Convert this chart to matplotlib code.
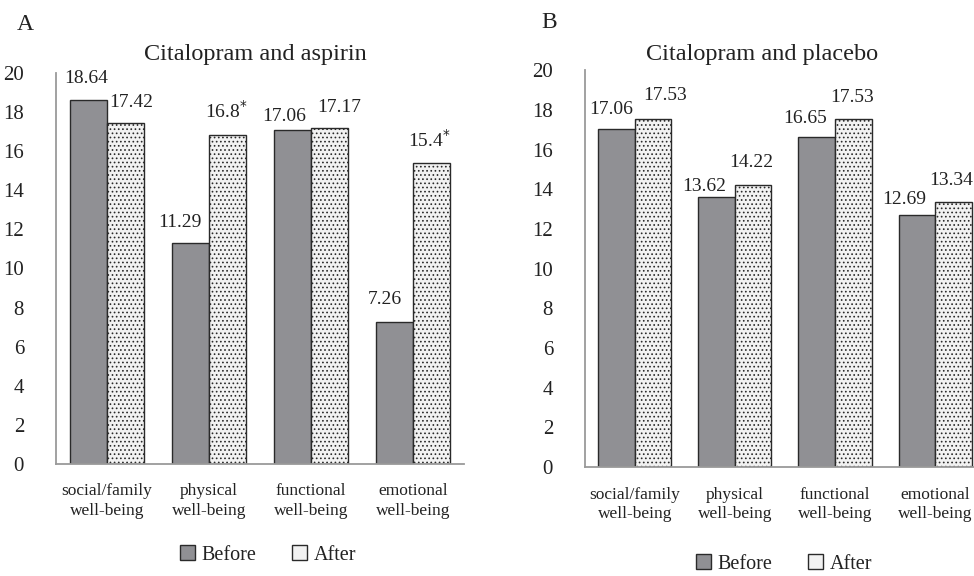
import numpy as np
import matplotlib.pyplot as plt
from matplotlib.patches import Patch

plt.rcParams['font.family'] = ['Liberation Serif', 'DejaVu Serif']
plt.rcParams['text.color'] = '#222222'
plt.rcParams['xtick.color'] = '#222222'
plt.rcParams['ytick.color'] = '#222222'
plt.rcParams['hatch.color'] = '#e2e2e2'
plt.rcParams['hatch.linewidth'] = 0.7

categories = ['social/family\nwell-being', 'physical\nwell-being',
              'functional\nwell-being', 'emotional\nwell-being']
aspirin_before = [18.64, 11.29, 17.06, 7.26]
aspirin_after = [17.42, 16.8, 17.17, 15.4]
aspirin_after_star = [False, True, False, True]
placebo_before = [17.06, 13.62, 16.65, 12.69]
placebo_after = [17.53, 14.22, 17.53, 13.34]
placebo_after_star = [False, False, False, False]
yticks = list(range(0, 21, 2))

# label nudges (pixels: dx, gap above bar) as placed in the original
aspirin_before_nudge = [(-2, 16.5), (-11, 16), (-8.5, 9.5), (-9.5, 18)]
aspirin_after_nudge = [(6, 16), (-1.5, 17.5), (10, 16), (-2.5, 16)]
placebo_before_nudge = [(-5.5, 15), (-13, 5.5), (-12, 13.5), (-13, 11)]
placebo_after_nudge = [(12, 19), (-2, 17.5), (-1.5, 17), (-2.5, 17)]

dark = '#909094'
light = '#f2f2f2'
PX = 0.72  # points per pixel at 100 dpi


def fmt(v):
    s = f"{v:.2f}"
    if s.endswith('0'):
        s = s[:-1]
    return s


def draw_panel(ax, before, after, stars, nb, na):
    x = np.arange(len(categories))
    w = 0.365
    ax.bar(x - w / 2, before, w, color=dark, edgecolor='#2a2a2a', linewidth=1.0)
    ax.bar(x + w / 2, after, w, color=light, edgecolor='#2a2a2a', linewidth=1.0,
           hatch='....')
    for xi, v, (dx, dy) in zip(x, before, nb):
        ax.annotate(fmt(v), (xi - w / 2, v), xytext=(dx * PX, dy * PX),
                    textcoords='offset points', ha='center', va='baseline',
                    fontsize=14)
    for xi, v, s, (dx, dy) in zip(x, after, stars, na):
        lab = fmt(v) + (r'$^{*}$' if s else '')
        ax.annotate(lab, (xi + w / 2, v), xytext=(dx * PX, dy * PX),
                    textcoords='offset points', ha='center', va='baseline',
                    fontsize=14)
    ax.set_ylim(0, 20)
    ax.set_yticks(yticks)
    ax.set_xticks(x)
    ax.set_xticklabels(categories, fontsize=12.5, linespacing=1.3)
    ax.tick_params(axis='y', length=0, pad=23, labelsize=15)
    ax.tick_params(axis='x', length=0, pad=14)
    for side in ['top', 'right']:
        ax.spines[side].set_visible(False)
    for side in ['left', 'bottom']:
        ax.spines[side].set_color('#9a9a9a')
        ax.spines[side].set_linewidth(1.3)


fig = plt.figure(figsize=(9.74, 5.76), dpi=100)
ax1 = fig.add_axes([0.0575, 0.1944, 0.419, 0.679])
draw_panel(ax1, aspirin_before, aspirin_after, aspirin_after_star,
           aspirin_before_nudge, aspirin_after_nudge)
ax1.set_xlim(-0.5, 3.5)

ax2 = fig.add_axes([0.6006, 0.189, 0.4107, 0.689])
draw_panel(ax2, placebo_before, placebo_after, placebo_after_star,
           placebo_before_nudge, placebo_after_nudge)
ax2.set_xlim(-0.5, 3.5)

fig.text(255 / 974, 1 - 60 / 576, 'Citalopram and aspirin', fontsize=17.5,
         ha='center', va='baseline')
fig.text(762 / 974, 1 - 60 / 576, 'Citalopram and placebo', fontsize=17.5,
         ha='center', va='baseline')

handles = [Patch(facecolor=dark, edgecolor='#2a2a2a', label='Before'),
           Patch(facecolor=light, edgecolor='#2a2a2a', label='After')]
fig.legend(handles=handles, loc='center', bbox_to_anchor=(268 / 974, 1 - 555 / 576),
           ncol=2, frameon=False, fontsize=14.5, handlelength=0.75, handleheight=0.75,
           handletextpad=0.3, columnspacing=1.8, borderpad=0.1)
fig.legend(handles=handles, loc='center', bbox_to_anchor=(784 / 974, 1 - 564 / 576),
           ncol=2, frameon=False, fontsize=14.5, handlelength=0.75, handleheight=0.75,
           handletextpad=0.3, columnspacing=1.8, borderpad=0.1)

fig.text(17 / 974, 1 - 25 / 576, 'A', fontsize=17, va='center')
fig.text(541 / 974, 1 - 23 / 576, 'B', fontsize=17, va='center')

fig.savefig('out.png', dpi=100)
